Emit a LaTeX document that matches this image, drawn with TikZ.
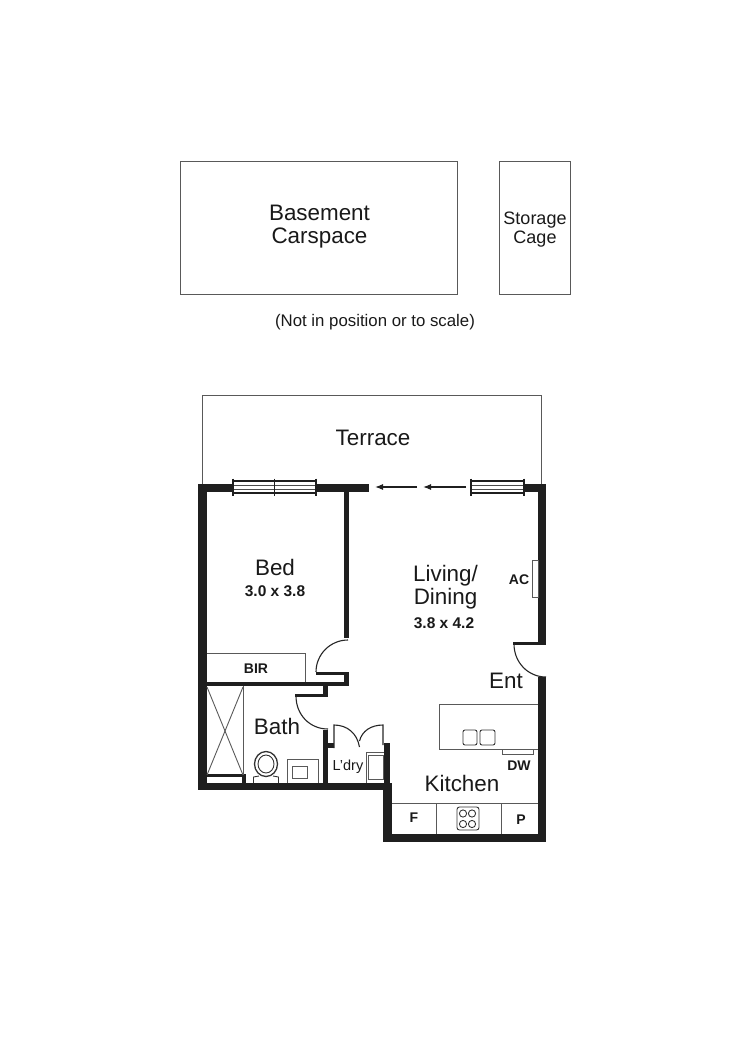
\documentclass[tikz,border=0pt]{standalone}
\usepackage{fontspec}
\setmainfont{Liberation Sans}
\usetikzlibrary{arrows.meta}
\tikzset{
  thinline/.style={draw=black!65,line width=0.9pt},
  fixture/.style={draw=black!80,line width=0.9pt},
  doorline/.style={draw=black!85,line width=1.1pt},
  bigtext/.style={text=black!90,font=\fontsize{22.4}{23}\selectfont,align=center},
  midtext/.style={text=black!90,font=\fontsize{18}{19}\selectfont,align=center},
  sizetext/.style={text=black!90,font=\bfseries\fontsize{15.5}{17}\selectfont},
  tagtext/.style={text=black!90,font=\bfseries\fontsize{14}{16}\selectfont},
}
\begin{document}
\begin{tikzpicture}[x=1pt,y=-1pt]
\def\WALLCOLOR{black!88}
	\useasboundingbox (0,0) rectangle (750,1060);
	% outlines
	\draw[thinline] (180,161) rectangle (457,294);
	\draw[thinline] (499,161) rectangle (570.5,294);
	\draw[thinline] (202,484) -- (202,395) -- (541.5,395) -- (541.5,484);
	% outer walls
	\fill[\WALLCOLOR] (198,484) rectangle (233,492);
	\fill[\WALLCOLOR] (316,484) rectangle (369,492);
	\fill[\WALLCOLOR] (524,484) rectangle (546,492);
	\fill[\WALLCOLOR] (198,484) rectangle (207,790);
	\fill[\WALLCOLOR] (198,783) rectangle (392,790);
	\fill[\WALLCOLOR] (383,783) rectangle (392,842);
	\fill[\WALLCOLOR] (383,834) rectangle (546,842);
	\fill[\WALLCOLOR] (538,677) rectangle (546,842);
	\fill[\WALLCOLOR] (538,484) rectangle (546,642);
	\fill[\WALLCOLOR] (513,642) rectangle (546,645);
	% inner walls
	\fill[\WALLCOLOR] (344,492) rectangle (349,638);
	\fill[\WALLCOLOR] (316,672) rectangle (349,675);
	\fill[\WALLCOLOR] (344,672) rectangle (349,686);
	\fill[\WALLCOLOR] (207,682) rectangle (349,686);
	\fill[\WALLCOLOR] (323,686) rectangle (328,697);
	\fill[\WALLCOLOR] (295,694) rectangle (328,697);
	\fill[\WALLCOLOR] (323,730) rectangle (328,783);
	\fill[\WALLCOLOR] (328,743) rectangle (334,748);
	\fill[\WALLCOLOR] (384,743) rectangle (390,783);
	\fill[\WALLCOLOR] (207,774) rectangle (245,777);
	\fill[\WALLCOLOR] (242,774) rectangle (246,783);
	% windows
	\foreach \xa/\xb in {233/316,471/524} {
		\draw[line width=1.6pt,black!88] (\xa,481) -- (\xb,481);
		\draw[line width=1.6pt,black!88] (\xa,493) -- (\xb,493);
		\draw[line width=0.6pt,black!70] (\xa,485) -- (\xb,485);
		\draw[line width=0.6pt,black!70] (\xa,489) -- (\xb,489);
		\draw[line width=1.6pt,black!88] (\xa,478.5) -- (\xa,495.5);
		\draw[line width=1.6pt,black!88] (\xb,478.5) -- (\xb,495.5);
	}
	\draw[line width=1.8pt,black!88] (274.5,478.5) -- (274.5,495.5);
	% sliding arrows
	\coordinate (slideA) at (466,487);
	\coordinate (slideB) at (423,487);
	\coordinate (slideC) at (417,487);
	\coordinate (slideD) at (375,487);
	\draw[-{Latex[length=8pt,width=6pt]},line width=1.1pt,black!88] (slideA) -- (slideB);
	\draw[-{Latex[length=8pt,width=6pt]},line width=1.1pt,black!88] (slideC) -- (slideD);
	% doors
	\draw[doorline] (316,672) .. controls (316,654.3) and (330.3,640) .. (348,640);
	\draw[doorline] (296,696) .. controls (296,714.7) and (309.7,729) .. (328,729);
	\draw[doorline] (514,644) .. controls (514,662.3) and (528,677) .. (546,677);
	\draw[doorline] (334,748) -- (334,725) .. controls (347,725) and (357,733) .. (359.5,747);
	\draw[doorline] (383,745) -- (383,725) .. controls (371,725) and (362,731) .. (359.5,741);
	% robe and shower
	\draw[thinline] (207,653) -- (305.5,653) -- (305.5,682);
	\draw[thinline] (243,686) -- (243,775);
	\draw[thinline] (207,687) -- (243,775);
	\draw[thinline] (243,687) -- (207,775);
	% toilet and vanity
	\draw[fixture,line width=1.3pt] (266,764) ellipse (11.5 and 12.5);
	\draw[fixture] (266,764) ellipse (8 and 9);
	\draw[fixture] (253.5,783) -- (253.5,777) -- (259,776);
	\draw[fixture] (278.5,783) -- (278.5,777) -- (273,776);
	\draw[thinline] (287,783) -- (287,759) -- (318,759) -- (318,783);
	\draw[thinline] (292,766) rectangle (307,778);
	% laundry
	\draw[thinline] (366,783) -- (366,752) -- (384,752);
	\draw[thinline] (368,755) rectangle (383,779);
	% kitchen
	\draw[thinline] (532,560) rectangle (538,597);
	\draw[thinline] (538,704) -- (439,704) -- (439,749) -- (538,749);
	\draw[thinline] (502,749) -- (502,754) -- (533,754) -- (533,749);
	\draw[fixture,rounded corners=2pt] (463,730) rectangle (477,745);
	\draw[fixture,rounded corners=2pt] (480,730) rectangle (495,745);
	\draw[thinline] (392,803) -- (538,803);
	\draw[thinline] (436,803) -- (436,834);
	\draw[thinline] (501,803) -- (501,834);
	\draw[fixture,rounded corners=2.5pt] (457,807) rectangle (479,830);
	\foreach \cx/\cy in {463/813.5,472/813.5,463/824,472/824}
		\draw[fixture] (\cx,\cy) circle (3.6);
	% labels
	\node[bigtext] (carspace) at (319.5,227) {Basement\\Carspace};
	\node[midtext] (cage) at (535,230) {Storage\\Cage};
	\node[text=black!90,font=\fontsize{16.8}{18}\selectfont] (note) at (375,322) {(Not in position or to scale)};
	\node[bigtext] (terrace) at (373,438) {Terrace};
	\node[bigtext] (bed) at (275,567.5) {Bed};
	\node[sizetext] (bedsize) at (275,591) {3.0 x 3.8};
	\node[bigtext] (living) at (445.5,587) {Living/\\Dining};
	\node[sizetext] (livingsize) at (444,623) {3.8 x 4.2};
	\node[tagtext] (ac) at (519,579.5) {AC};
	\node[tagtext] (bir) at (256,669) {BIR};
	\node[bigtext] (ent) at (506,680.5) {Ent};
	\node[bigtext] (bath) at (277,726.5) {Bath};
	\node[text=black!90,font=\fontsize{14.5}{16}\selectfont] (ldry) at (348,767) {L'dry};
	\node[tagtext] (dw) at (519,765.5) {DW};
	\node[bigtext] (kitchen) at (462,783.5) {Kitchen};
	\node[tagtext] (fridge) at (414,818) {F};
	\node[tagtext] (pantry) at (521,820) {P};
\end{tikzpicture}
\end{document}
